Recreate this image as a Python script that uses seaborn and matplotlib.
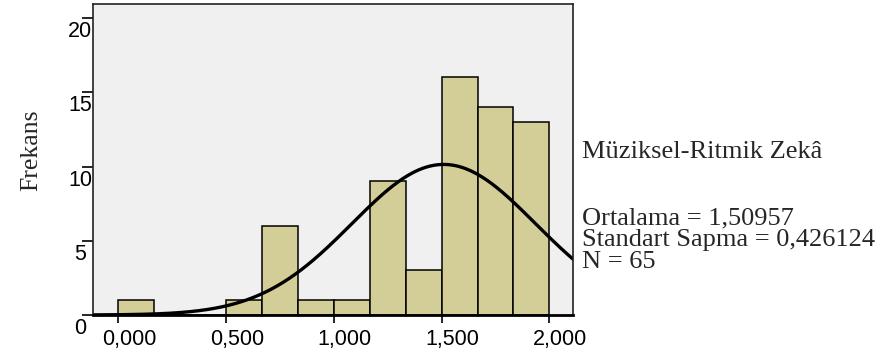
import numpy as np
import pandas as pd
import seaborn as sns
import matplotlib
matplotlib.use("Agg")
import matplotlib.pyplot as plt
from matplotlib.transforms import ScaledTranslation

# histogram data (bins of width 1/6 starting at 0)
bin_width = 1 / 6
bin_starts = [0.0, 1 / 6, 2 / 6, 3 / 6, 4 / 6, 5 / 6, 1.0, 7 / 6, 8 / 6, 9 / 6, 10 / 6, 11 / 6]
counts = [1, 0, 0, 1, 6, 1, 1, 9, 3, 16, 14, 13]

# summary stats shown in the legend text
mean = 1.50957
std_dev = 0.426124
n_obs = 65

x_ticks = [0.0, 0.5, 1.0, 1.5, 2.0]
x_tick_labels = ["0,000", "0,500", "1,000", "1,500", "2,000"]
y_ticks = [0, 5, 10, 15, 20]

BAR_COLOR = "#D3CE97"
BG_COLOR = "#F0F0F0"

sns.set_style("ticks")
plt.rcParams["font.family"] = ["Liberation Sans", "DejaVu Sans"]

fig = plt.figure(figsize=(8.83, 3.56), dpi=100)
ax = fig.add_axes([0.1057, 0.1152, 0.5436, 0.8736])
ax.set_facecolor(BG_COLOR)

df = pd.DataFrame(dict(x=[s + bin_width / 2 for s in bin_starts], w=counts))
edges = bin_starts + [bin_starts[-1] + bin_width]
sns.histplot(data=df, x="x", weights="w", bins=edges, color=BAR_COLOR, alpha=1,
             edgecolor="black", linewidth=1.1, ax=ax)

# fitted normal curve
xlim = (-0.116, 2.111)
grid = np.linspace(xlim[0], xlim[1], 400)
dens = n_obs * bin_width / (std_dev * np.sqrt(2 * np.pi)) * np.exp(-0.5 * ((grid - mean) / std_dev) ** 2)
sns.lineplot(x=grid, y=dens, color="black", linewidth=2.4, ax=ax)

ax.set_xlim(*xlim)
ax.set_ylim(0, 20.95)
ax.set_xticks(x_ticks)
ax.set_xticklabels(x_tick_labels)
ax.set_yticks(y_ticks)
ax.set_yticklabels([str(v) for v in y_ticks])
ax.set_xlabel("")
ax.set_ylabel("")

ax.tick_params(axis="x", direction="out", length=5.8, width=1.2, pad=4.5, labelsize=15.5, colors="black")
ax.tick_params(axis="y", direction="out", length=7.7, width=1.2, pad=1.9, labelsize=15.5, colors="black")

# SPSS-style label offsets
y_shift = ScaledTranslation(0, -3 / 100, fig.dpi_scale_trans)
for lbl in ax.get_yticklabels():
    lbl.set_ha("center")
    lbl.set_va("top")
    lbl.set_transform(lbl.get_transform() + y_shift)
x_shift = ScaledTranslation(11 / 100, 0, fig.dpi_scale_trans)
for lbl in ax.get_xticklabels():
    lbl.set_transform(lbl.get_transform() + x_shift)

for side in ["left", "right", "top"]:
    ax.spines[side].set_visible(True)
    ax.spines[side].set_linewidth(1.2)
    ax.spines[side].set_color("#222222")
ax.spines["bottom"].set_linewidth(2)
ax.spines["bottom"].set_color("black")

serif = ["Liberation Serif", "DejaVu Serif"]
fig.text(31 / 883, 1 - 150 / 356, "Frekans", rotation=90, ha="center", va="center",
         family=serif, fontsize=18.5)

tx = 582 / 883
fig.text(tx, 1 - 152 / 356, "Müziksel-Ritmik Zekâ", ha="left", va="center", family=serif, fontsize=19)
fig.text(tx, 1 - 218 / 356, "Ortalama = " + f"{mean:.5f}".replace(".", ","),
         ha="left", va="center", family=serif, fontsize=19)
fig.text(tx, 1 - 240 / 356, "Standart Sapma = " + f"{std_dev:.6f}".replace(".", ","),
         ha="left", va="center", family=serif, fontsize=19)
fig.text(tx, 1 - 262 / 356, f"N = {n_obs}", ha="left", va="center", family=serif, fontsize=19)

fig.savefig("out.png", dpi=100, facecolor="white")
